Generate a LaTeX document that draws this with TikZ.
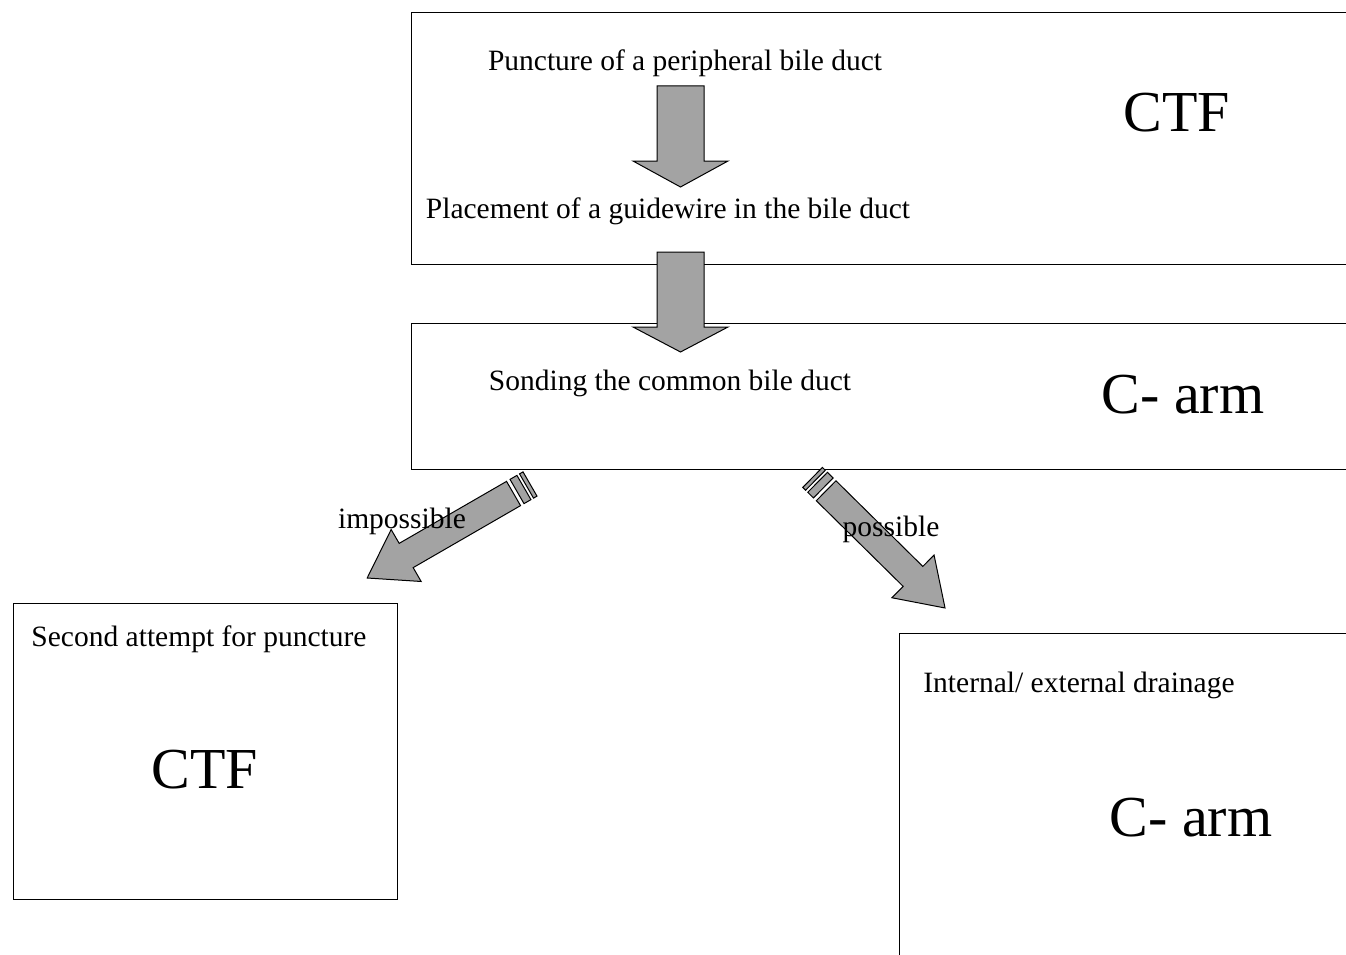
\documentclass[tikz,border=0pt]{standalone}
\usepackage{fontspec}
\setmainfont{Liberation Serif}
\newcommand\stripedarrow[3]{%
  \begin{scope}[shift={#1},rotate=#2]
    \filldraw[arrowfill] (0,-14) rectangle (4,14);
    \filldraw[arrowfill] (7,-14) rectangle (15,14);
    \filldraw[arrowfill] (19,-14) -- ({#3-45},-14) -- ({#3-45},-30) -- (#3,0)
      -- ({#3-45},30) -- ({#3-45},14) -- (19,14) -- cycle;
  \end{scope}}
\begin{document}
\begin{tikzpicture}[x=1pt,y=-1pt,
  box/.style={draw, line width=1.2pt, anchor=north west, inner sep=0pt},
  txt/.style={font=\fontsize{29.5}{34}\selectfont, inner sep=1pt},
  big/.style={font=\fontsize{58}{66}\selectfont, inner sep=1pt},
  arrowfill/.style={fill=black!36, draw=black, line width=1pt, line join=miter}]
\useasboundingbox (0,0) rectangle (1346,955);
\clip (0,0) rectangle (1346,955);
\fill[white] (0,0) rectangle (1346,955);
% boxes
\node[box, minimum width=960pt, minimum height=252pt] (ctfbox) at (411,12) {};
\node[box, minimum width=960pt, minimum height=146pt] (carmbox) at (411,323) {};
\node[box, minimum width=384pt, minimum height=296pt] (secondbox) at (13,603) {};
\node[box, minimum width=470pt, minimum height=340pt] (drainbox) at (899,633) {};
% texts
\node[txt] (puncture) at (685,63) {Puncture of a peripheral bile duct};
\node[txt] (guidewire) at (668,211.5) {Placement of a guidewire in the bile duct};
\node[big] (ctf1) at (1177,113) {CTF};
\node[txt] (sonding) at (670,383.5) {Sonding the common bile duct};
\node[big] (carm1) at (1183,395) {C- arm};
\node[txt] (second) at (199,639.5) {Second attempt for puncture};
\node[big] (ctf2) at (205,770) {CTF};
\node[txt] (internal) at (1079,685.5) {Internal/ external drainage};
\node[big] (carm2) at (1191,818) {C- arm};
% vertical block arrows
\filldraw[arrowfill] (657,86) -- (704,86) -- (704,161) -- (728,161) -- (680.5,187)
  -- (633,161) -- (657,161) -- cycle;
\filldraw[arrowfill] (657,252) -- (704,252) -- (704,327) -- (728,327) -- (680.5,352)
  -- (633,327) -- (657,327) -- cycle;
% striped diagonal arrows
\coordinate (lefttail) at (530,484);
\coordinate (righttail) at (812.6,477.4);
\stripedarrow{(lefttail)}{210}{188}
\stripedarrow{(righttail)}{-44.6}{186}
% labels
\node[txt] (impossible) at (402,521.5) {impossible};
\node[txt] (possible) at (891,529.5) {possible};
\end{tikzpicture}
\end{document}
